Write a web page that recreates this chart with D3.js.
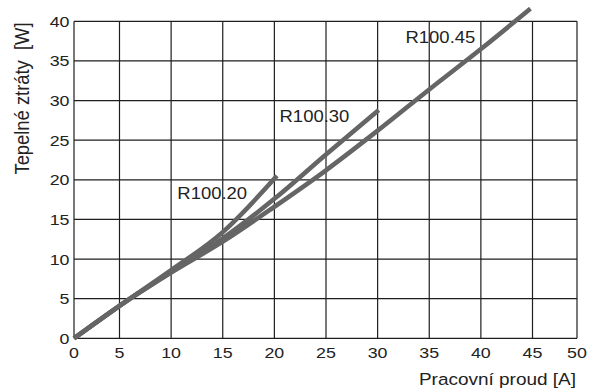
<!DOCTYPE html>
<html>
<head>
<meta charset="utf-8">
<script src="https://cdn.jsdelivr.net/npm/d3@7/dist/d3.min.js"></script>
<style>
  html, body { margin: 0; padding: 0; background: #fff; }
  svg { display: block; }
  text { font-family: "Liberation Sans", Arial, Helvetica, sans-serif; fill: #222; white-space: pre; }
</style>
</head>
<body>
<svg id="chart" width="594" height="388"></svg>
<script>
// ---- data ----
const xTicks = [0, 5, 10, 15, 20, 25, 30, 35, 40, 45, 50];
const yTicks = [0, 5, 10, 15, 20, 25, 30, 35, 40];
const xLabel = "Pracovní proud [A]";
const yLabel = "Tepelné ztráty  [W]";

const seriesNames = ["R100.20", "R100.30", "R100.45"];
const currentR10020 = [0, 5, 10, 15, 20.25];
const lossR10020    = [0, 4.1, 8.6, 13.4, 20.5];
const currentR10030 = [0, 5, 10, 15, 20, 25, 30.1];
const lossR10030    = [0, 4.1, 8.4, 12.6, 17.6, 23.2, 28.8];
const currentR10045 = [0, 5, 10, 15, 20, 25, 30, 35, 40, 44.8];
const lossR10045    = [0, 4.1, 8.3, 12.2, 16.6, 21.2, 26.2, 31.4, 36.5, 41.6];
// label anchor values (data units)
const labelX = [10.6, 20.5, 32.7];
const labelY = [17.6, 27.3, 37.3];

(function () {
// ---- layout ----
const svg = d3.select("#chart");
const mLeft = 74, mRight = 577, mTop = 21.3, mBottom = 338.3;
// the reference grid has narrower first/last columns
const x = d3.scaleLinear()
  .domain([xTicks[0], xTicks[1], xTicks[xTicks.length - 2], xTicks[xTicks.length - 1]])
  .range([mLeft, 119.5, 532.5, mRight]);
const y = d3.scaleLinear().domain([0, 40]).range([mBottom, mTop]);

const gridColor = "#1e1e1e";

// grid
const g = svg.append("g");
g.selectAll("line.v").data(xTicks).enter().append("line")
  .attr("x1", d => x(d)).attr("x2", d => x(d))
  .attr("y1", y(0)).attr("y2", y(40))
  .attr("stroke", gridColor).attr("stroke-width", 1.2);
g.selectAll("line.h").data(yTicks).enter().append("line")
  .attr("y1", d => y(d)).attr("y2", d => y(d))
  .attr("x1", x(0)).attr("x2", x(50))
  .attr("stroke", gridColor).attr("stroke-width", 1.2);

// tick labels
const sx = 1.15;
svg.append("g").selectAll("text").data(xTicks).enter().append("text")
  .attr("transform", d => `translate(${x(d)},357.7) scale(${sx},1)`)
  .attr("text-anchor", "middle")
  .style("font-size", "15.5px")
  .text(d => d);
svg.append("g").selectAll("text").data(yTicks).enter().append("text")
  .attr("transform", d => `translate(69.5,${y(d) + 5.5}) scale(${sx},1)`)
  .attr("text-anchor", "end")
  .style("font-size", "15.5px")
  .text(d => d);

// axis titles
svg.append("text")
  .attr("transform", `translate(576,385) scale(${sx},1)`)
  .attr("text-anchor", "end")
  .style("font-size", "16.5px")
  .text(xLabel);
svg.append("text")
  .attr("transform", `translate(29.3,98.5) rotate(-90) scale(1.05,1.11)`)
  .attr("text-anchor", "middle")
  .style("font-size", "17.5px")
  .text(yLabel);

// curves
const series = [
  d3.zip(currentR10020, lossR10020),
  d3.zip(currentR10030, lossR10030),
  d3.zip(currentR10045, lossR10045)
];
const line = d3.line().x(d => x(d[0])).y(d => y(d[1])).curve(d3.curveMonotoneX);
svg.append("g").selectAll("path").data(series).enter().append("path")
  .attr("d", line)
  .attr("fill", "none")
  .attr("stroke", "#656565")
  .attr("stroke-width", 4.6)
  .attr("stroke-linecap", "butt")
  .attr("stroke-linejoin", "round");

// series labels
svg.append("g").selectAll("text").data(seriesNames).enter().append("text")
  .attr("transform", (d, i) => `translate(${x(labelX[i])},${y(labelY[i])}) scale(1.1,1)`)
  .attr("text-anchor", "start")
  .style("font-size", "16.8px")
  .text(d => d);
})();
</script>
</body>
</html>
